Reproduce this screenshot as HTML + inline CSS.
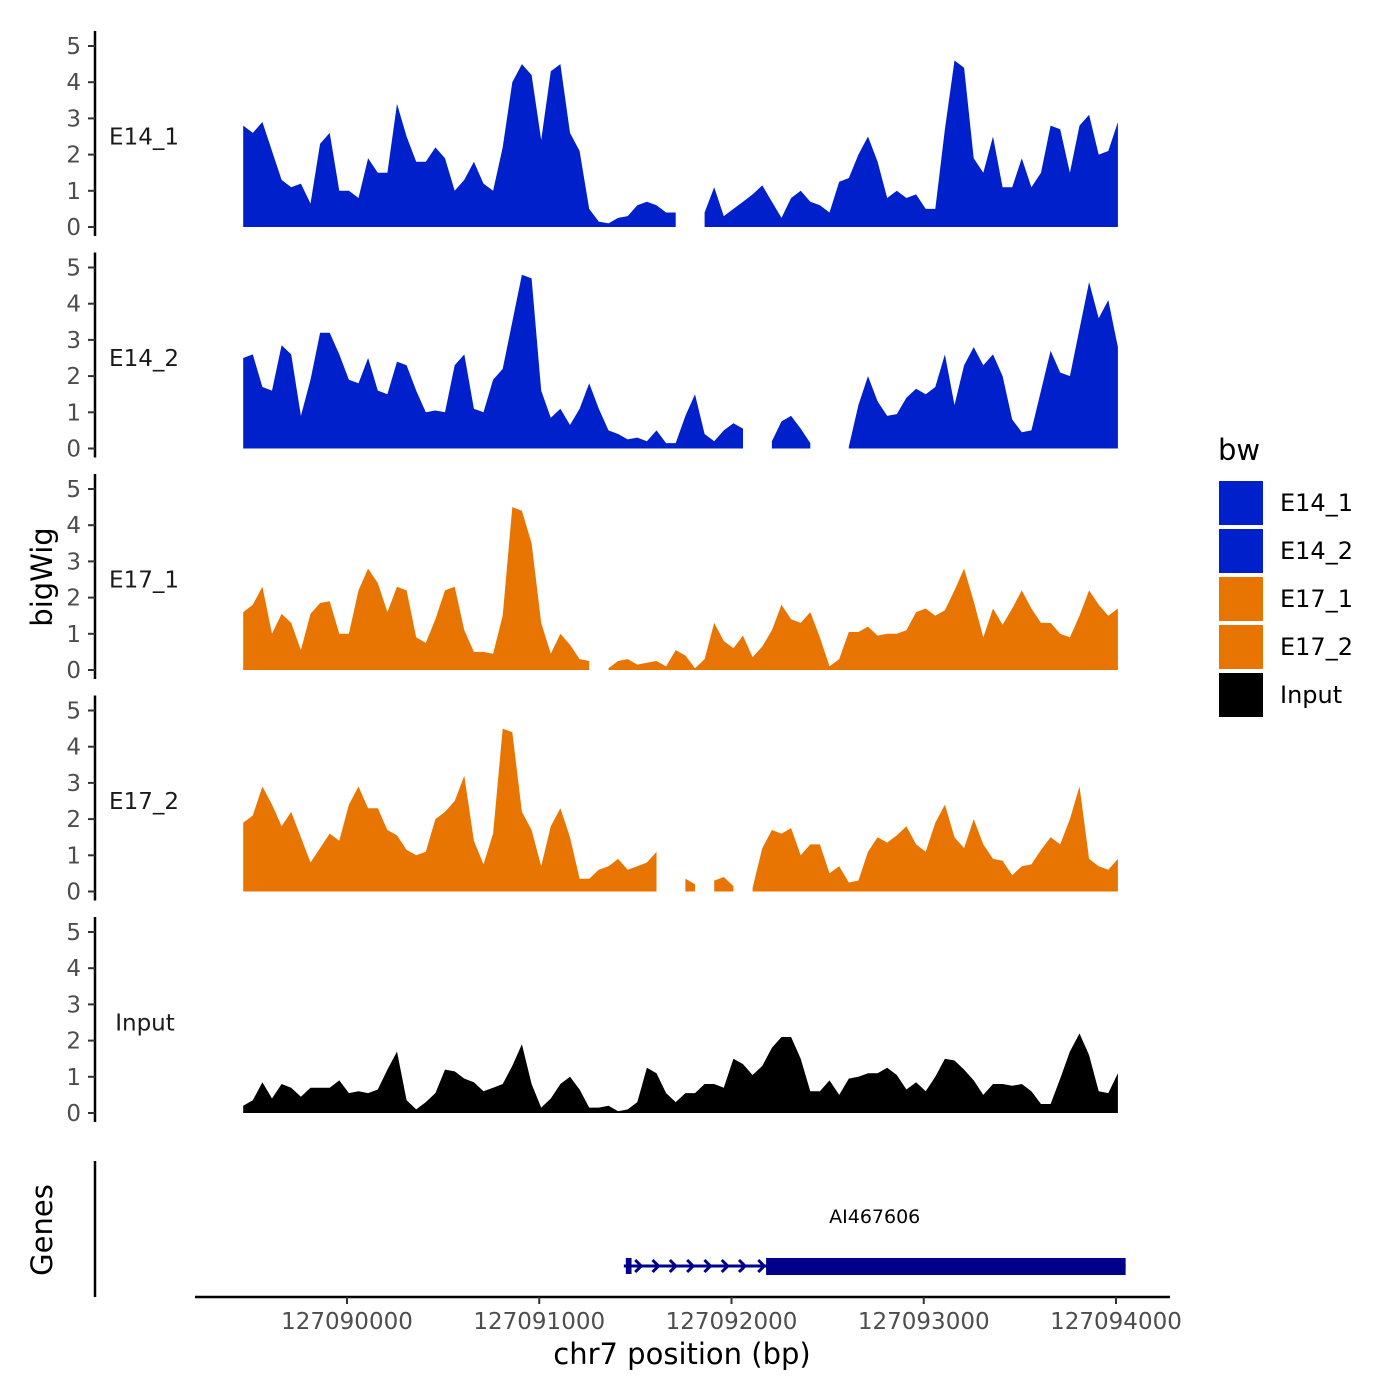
<!DOCTYPE html>
<html><head><meta charset="utf-8"><style>
body{margin:0;background:#fff}
svg{display:block;font-family:"DejaVu Sans","Liberation Sans",sans-serif}
</style></head><body>
<svg id="chart" width="1400" height="1400" viewBox="0 0 1400 1400" xmlns="http://www.w3.org/2000/svg">
<rect width="1400" height="1400" fill="#fff"/>
<g id="tracks"></g>
<text x="52" y="577" font-size="29" text-anchor="middle" transform="rotate(-90 52 577)">bigWig</text>
<text x="52" y="1230" font-size="29" text-anchor="middle" transform="rotate(-90 52 1230)">Genes</text>
<line x1="95" y1="1161" x2="95" y2="1297" stroke="#000" stroke-width="2.5"/>
<g id="gene"></g>
<g id="xaxis"></g>
<text x="682" y="1364" font-size="29" text-anchor="middle">chr7 position (bp)</text>
<g>
<text x="1218" y="460" font-size="29">bw</text>
<g><rect x="1219" y="481" width="44" height="44" fill="#0020CC"/><text x="1280" y="511" font-size="24">E14_1</text></g>
<g><rect x="1219" y="529" width="44" height="44" fill="#0020CC"/><text x="1280" y="559" font-size="24">E14_2</text></g>
<g><rect x="1219" y="577" width="44" height="44" fill="#E87502"/><text x="1280" y="607" font-size="24">E17_1</text></g>
<g><rect x="1219" y="625" width="44" height="44" fill="#E87502"/><text x="1280" y="655" font-size="24">E17_2</text></g>
<g><rect x="1219" y="673" width="44" height="44" fill="#000"/><text x="1280" y="703" font-size="24">Input</text></g>
</g>
</svg>
<script>
const binStart = 127089460;
const binSize = 50;
const trackNames = ["E14_1","E14_2","E17_1","E17_2","Input"];
const trackColors = ["#0020CC","#0020CC","#E87502","#E87502","#000000"];
const yTicks = [0,1,2,3,4,5];
const xTicks = [127090000,127091000,127092000,127093000,127094000];
const e14_1 = [2.8,2.6,2.9,2.1,1.3,1.1,1.2,0.65,2.3,2.6,1.0,1.0,0.8,1.9,1.5,1.5,3.4,2.5,1.8,1.8,2.2,1.9,1.0,1.3,1.8,1.2,1.0,2.2,4.0,4.5,4.2,2.4,4.3,4.5,2.6,2.1,0.5,0.15,0.1,0.25,0.3,0.6,0.7,0.6,0.4,0.4,null,null,0.4,1.1,0.3,0.5,0.7,0.9,1.15,0.7,0.25,0.8,1.0,0.7,0.6,0.4,1.25,1.35,2.0,2.5,1.8,0.8,1.0,0.8,0.9,0.5,0.5,2.7,4.6,4.4,1.9,1.5,2.5,1.1,1.1,1.9,1.1,1.5,2.8,2.7,1.5,2.8,3.1,2.0,2.1,2.9];
const e14_2 = [2.5,2.6,1.7,1.6,2.85,2.6,0.9,1.9,3.2,3.2,2.6,1.9,1.8,2.5,1.6,1.5,2.4,2.3,1.6,1.0,1.05,1.0,2.3,2.6,1.1,1.0,1.9,2.2,3.5,4.8,4.7,1.6,0.85,1.1,0.65,1.1,1.8,1.1,0.5,0.4,0.25,0.3,0.2,0.5,0.15,0.15,0.9,1.5,0.4,0.2,0.5,0.7,0.55,null,null,0.2,0.75,0.9,0.55,0.15,null,null,null,0.05,1.2,2.0,1.3,0.9,0.95,1.4,1.65,1.5,1.7,2.6,1.2,2.3,2.8,2.3,2.6,2.0,0.8,0.45,0.5,1.6,2.7,2.1,2.0,3.3,4.6,3.6,4.1,2.8];
const e17_1 = [1.6,1.8,2.3,1.0,1.55,1.3,0.55,1.55,1.85,1.9,1.0,1.0,2.2,2.8,2.4,1.6,2.3,2.2,0.9,0.75,1.4,2.2,2.3,1.1,0.5,0.5,0.45,1.5,4.5,4.4,3.5,1.3,0.45,1.0,0.7,0.3,0.25,null,0.05,0.25,0.3,0.15,0.2,0.25,0.1,0.55,0.4,0.05,0.3,1.3,0.8,0.6,0.95,0.35,0.65,1.1,1.8,1.4,1.3,1.6,0.9,0.1,0.3,1.05,1.05,1.2,0.95,1.0,1.0,1.1,1.6,1.7,1.5,1.65,2.2,2.8,1.9,0.9,1.7,1.25,1.7,2.2,1.7,1.3,1.3,1.0,0.9,1.5,2.2,1.8,1.5,1.7];
const e17_2 = [1.9,2.1,2.9,2.4,1.8,2.2,1.5,0.8,1.2,1.6,1.4,2.4,2.9,2.3,2.3,1.7,1.55,1.15,1.0,1.1,2.0,2.2,2.5,3.2,1.4,0.75,1.6,4.5,4.4,2.2,1.7,0.7,1.8,2.3,1.5,0.35,0.35,0.6,0.7,0.9,0.6,0.7,0.8,1.1,null,null,0.35,0.2,null,0.3,0.4,0.15,null,0.1,1.2,1.7,1.6,1.75,1.0,1.3,1.3,0.5,0.7,0.25,0.3,1.1,1.5,1.35,1.55,1.8,1.3,1.1,1.9,2.4,1.5,1.2,2.0,1.3,0.9,0.85,0.45,0.7,0.75,1.15,1.5,1.3,2.0,2.9,0.9,0.7,0.6,0.9];
const input = [0.2,0.35,0.85,0.4,0.8,0.7,0.45,0.7,0.7,0.7,0.9,0.55,0.6,0.55,0.65,1.2,1.7,0.35,0.1,0.3,0.55,1.2,1.15,0.95,0.85,0.6,0.7,0.8,1.3,1.9,0.8,0.15,0.4,0.8,1.0,0.65,0.15,0.15,0.2,0.05,0.1,0.3,1.25,1.1,0.55,0.3,0.55,0.55,0.8,0.8,0.7,1.5,1.35,1.05,1.3,1.8,2.1,2.1,1.5,0.6,0.6,0.9,0.5,0.95,1.0,1.1,1.1,1.25,1.05,0.65,0.85,0.6,1.0,1.5,1.45,1.2,0.9,0.5,0.8,0.8,0.75,0.8,0.6,0.25,0.25,0.95,1.7,2.2,1.6,0.6,0.55,1.1];
const geneName = "AI467606";
const geneStart = 127091440;
const cdsStart = 127092180;
const geneEnd = 127094050;
const exon1End = 127091480;
const chevronPositions = [127091520,127091610,127091700,127091790,127091880,127091970,127092060,127092160];

const series = [e14_1,e14_2,e17_1,e17_2,input];
const NS = "http://www.w3.org/2000/svg";
function xs(bp){ return 347 + (bp - 127090000) * 0.19225; }
const panelTop0 = 227, panelGap = 221.5, unitPx = 36.2;
function ys(v, k){ return panelTop0 + k*panelGap - v*unitPx; }
function mk(tag, attrs, parent){ const e=document.createElementNS(NS,tag); for(const a in attrs) e.setAttribute(a,attrs[a]); parent.appendChild(e); return e; }

const tracksG = document.getElementById('tracks');
series.forEach((vals, k) => {
  const g = mk('g', {}, tracksG);
  
  
  const base = ys(0,k);
  const ax = mk('line', {x1:95,y1:base+9,x2:95,y2:ys(5,k)-15,stroke:'#000','stroke-width':2.5}, g);
  
  
  yTicks.forEach(t => {
    const tl = mk('line', {x1:88,y1:ys(t,k),x2:95,y2:ys(t,k),stroke:'#333','stroke-width':2}, g);
    
    
    const tx = mk('text', {x:81,y:ys(t,k)+8,'font-size':23,fill:'#4d4d4d','text-anchor':'end'}, g);
    tx.textContent = t;
    
    
  });
  const lab = mk('text', {x:trackNames[k]==='Input'?145:144,y:ys(2.5,k)+8,'font-size':23,'text-anchor':'middle',fill:'#1a1a1a'}, g);
  lab.textContent = trackNames[k];
  
  
  let run = [];
  const flush = () => {
    if (run.length) {
      let d = 'M' + run[0][0] + ',' + base;
      run.forEach(p => d += 'L' + p[0] + ',' + p[1]);
      d += 'L' + run[run.length-1][0] + ',' + base + 'Z';
      const p = mk('path', {d:d, fill:trackColors[k]}, g);
      
      
    }
    run = [];
  };
  vals.forEach((v,i) => {
    const bp = binStart + i*binSize;
    if (v === null) { flush(); return; }
    run.push([xs(bp).toFixed(1), ys(v,k).toFixed(1)]);
  });
  flush();
});

const xa = document.getElementById('xaxis');
mk('line', {x1:195,y1:1297,x2:1170,y2:1297,stroke:'#000','stroke-width':2.5}, xa);
xTicks.forEach(t => {
  const tl = mk('line', {x1:xs(t),y1:1297,x2:xs(t),y2:1304,stroke:'#333','stroke-width':2}, xa);
  
  
  const tx = mk('text', {x:xs(t),y:1329,'font-size':23,fill:'#4d4d4d','text-anchor':'middle'}, xa);
  tx.textContent = t;
  
  
});

const gg = document.getElementById('gene');
const gy = 1266, gc = '#00008B';
mk('line', {x1:xs(geneStart),y1:gy,x2:xs(geneEnd),y2:gy,stroke:gc,'stroke-width':3}, gg);
mk('rect', {x:xs(geneStart)+2,y:gy-8,width:xs(exon1End)-xs(geneStart)-2,height:16,fill:gc}, gg);
mk('rect', {x:xs(cdsStart),y:gy-8,width:xs(geneEnd)-xs(cdsStart),height:17,fill:gc}, gg);
chevronPositions.forEach(c => {
  const x = xs(c);
  const ch = mk('path', {d:'M'+(x-4)+','+(gy-6)+'L'+(x+2)+','+gy+'L'+(x-4)+','+(gy+6),stroke:gc,'stroke-width':3,fill:'none'}, gg);
  
  
});
const gl = mk('text', {x:(xs(geneStart)+xs(geneEnd))/2,y:1223,'font-size':19,'text-anchor':'middle',fill:'#000'}, gg);
gl.textContent = geneName;


</script>
</body></html>
